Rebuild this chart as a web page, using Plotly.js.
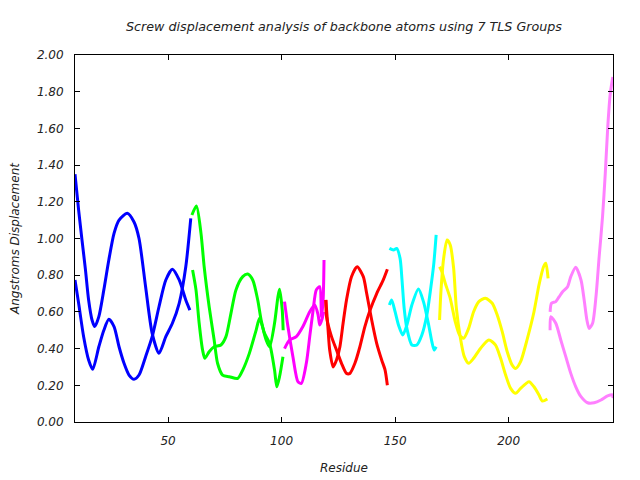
<!DOCTYPE html>
<html>
<head>
<meta charset="utf-8">
<script src="https://cdn.plot.ly/plotly-3.0.1.min.js"></script>
<style>html,body{margin:0;padding:0;background:#fff;}#chart{width:640px;height:480px;}</style>
</head>
<body>
<div id="chart"></div>
<script>
// TLS group 1 (blue)
const g1aX = [9, 10.6, 12.1, 13.6, 15.0, 16.5, 17.7, 19.5, 21.7, 23.9, 26.2, 28.4, 32, 35, 37.2, 40.1, 43, 46, 49, 51.9, 54.9, 57.8, 60];
const g1aY = [1.35, 1.155, 0.99, 0.83, 0.665, 0.556, 0.52, 0.574, 0.72, 0.883, 1.028, 1.10, 1.137, 1.09, 1.00, 0.737, 0.483, 0.374, 0.465, 0.538, 0.647, 0.846, 1.11];
const g1bX = [9, 10.6, 12.8, 15, 16.8, 19.5, 21.7, 23.9, 26.2, 28.4, 30.6, 32.8, 35, 37.2, 40.1, 43, 46, 49, 51.9, 54.9, 57.8, 59.6];
const g1bY = [0.774, 0.647, 0.465, 0.338, 0.287, 0.41, 0.50, 0.56, 0.52, 0.41, 0.32, 0.256, 0.233, 0.256, 0.356, 0.465, 0.628, 0.774, 0.832, 0.774, 0.665, 0.61];
// TLS group 2 (green)
const g2aX = [60.5, 62.5, 64.5, 65.9, 68.1, 70.3, 71.8, 74.0, 77, 80.7, 82.9, 85.8, 88.8, 90.3, 92.5, 94.7, 96.9, 97.9, 99.1, 100.6];
const g2aY = [1.128, 1.177, 1.028, 0.846, 0.628, 0.447, 0.32, 0.256, 0.247, 0.238, 0.283, 0.374, 0.501, 0.565, 0.483, 0.429, 0.283, 0.192, 0.247, 0.356];
const g2bX = [60.8, 62.3, 63.7, 65.2, 66.2, 68.1, 70.3, 73.3, 75.5, 77.7, 79.9, 82.9, 85.1, 87.3, 89.5, 91.0, 93.2, 94.7, 96.9, 98.4, 99.1, 100.3, 100.7];
const g2bY = [0.828, 0.72, 0.538, 0.392, 0.347, 0.383, 0.41, 0.42, 0.465, 0.592, 0.72, 0.792, 0.807, 0.774, 0.665, 0.556, 0.447, 0.41, 0.538, 0.683, 0.723, 0.61, 0.50];
// TLS group 3 (magenta)
const g3aX = [101.3, 102.8, 105, 107.2, 108.7, 110.9, 112.4, 113.9, 115.3, 116.8, 117.6, 118.3, 118.7];
const g3aY = [0.656, 0.52, 0.356, 0.22, 0.21, 0.32, 0.465, 0.61, 0.72, 0.737, 0.574, 0.665, 0.883];
const g3bX = [101.3, 103.5, 106.5, 109.4, 112.4, 114.6, 116.1, 116.8, 117.8, 118.5];
const g3bY = [0.40, 0.447, 0.465, 0.52, 0.601, 0.638, 0.583, 0.529, 0.56, 0.60];
// TLS group 4 (red)
const g4aX = [119.5, 120.5, 121.2, 122.7, 124.2, 125.7, 127.1, 128.6, 130.8, 133.3, 136, 137.5, 139.7, 141.9, 144.1, 145.6, 146.6];
const g4aY = [0.665, 0.50, 0.392, 0.30, 0.338, 0.41, 0.538, 0.665, 0.792, 0.846, 0.792, 0.70, 0.556, 0.429, 0.338, 0.283, 0.20];
const g4bX = [119.5, 119.8, 122, 124.2, 126.4, 128.6, 130.1, 132.3, 134.5, 136.7, 139, 141.9, 144.8, 146.6];
const g4bY = [0.665, 0.574, 0.465, 0.392, 0.32, 0.265, 0.265, 0.32, 0.41, 0.52, 0.61, 0.70, 0.774, 0.832];
// TLS group 5 (cyan)
const g5aX = [147.5, 149.3, 150.7, 152.2, 153, 154, 155.2, 157.4, 159.6, 161.8, 164, 165.5, 167, 168.1];
const g5aY = [0.946, 0.937, 0.946, 0.892, 0.783, 0.62, 0.51, 0.42, 0.42, 0.474, 0.583, 0.71, 0.856, 1.02];
const g5bX = [147.5, 148.5, 150, 151.5, 153.4, 155.2, 157.4, 160.3, 162.5, 164.8, 166.2, 167.2, 168.1];
const g5bY = [0.638, 0.665, 0.601, 0.529, 0.474, 0.529, 0.638, 0.725, 0.656, 0.529, 0.438, 0.392, 0.41];
// TLS group 6 (yellow)
const g6aX = [169.6, 170.6, 172.1, 174.3, 176.5, 178.4, 180.2, 182.4, 184.6, 186.9, 189.8, 192.8, 195, 197.2, 199.4, 201.6, 203.1, 205.3, 208.3, 211.2, 213.4, 215.4, 216.4, 217.4];
const g6aY = [0.846, 0.82, 0.756, 0.674, 0.547, 0.474, 0.456, 0.51, 0.601, 0.656, 0.674, 0.647, 0.583, 0.492, 0.383, 0.31, 0.292, 0.329, 0.456, 0.601, 0.747, 0.846, 0.865, 0.783];
const g6bX = [169.6, 170.2, 171.4, 172.9, 174.3, 175.8, 177, 178.8, 180.5, 182.4, 184.6, 187.6, 191.3, 194.2, 196.5, 198.7, 200.9, 203.1, 205.3, 209, 211.2, 213.4, 214.9, 217.1];
const g6bY = [0.556, 0.71, 0.892, 0.992, 0.965, 0.838, 0.62, 0.456, 0.356, 0.32, 0.347, 0.401, 0.447, 0.42, 0.347, 0.256, 0.183, 0.156, 0.183, 0.22, 0.192, 0.147, 0.114, 0.125];
// TLS group 7 (violet)
const g7aX = [218.3, 218.6, 220.8, 223, 225.2, 227.4, 229.6, 231.9, 234.8, 237.7, 240.7, 243.6, 245.9, 246];
const g7aY = [0.50, 0.574, 0.538, 0.447, 0.356, 0.265, 0.192, 0.138, 0.105, 0.105, 0.12, 0.142, 0.147, 0.13];
const g7bX = [218.3, 218.9, 220.8, 222.3, 223.8, 226, 227.4, 229.6, 231.9, 233.3, 234.5, 235.5, 237, 238.5, 239.9, 241.4, 242.6, 243.7, 244.8, 245.9];
const g7bY = [0.60, 0.647, 0.656, 0.683, 0.71, 0.737, 0.792, 0.843, 0.774, 0.665, 0.556, 0.51, 0.538, 0.683, 0.90, 1.12, 1.355, 1.61, 1.79, 1.88];

const groupColors = ['#0000ff', '#00ff00', '#ff00ff', '#ff0000', '#00ffff', '#ffff00', '#ff80ff'];
const seriesX = [[g1aX, g1bX], [g2aX, g2bX], [g3aX, g3bX], [g4aX, g4bX], [g5aX, g5bX], [g6aX, g6bX], [g7aX, g7bX]];
const seriesY = [[g1aY, g1bY], [g2aY, g2bY], [g3aY, g3bY], [g4aY, g4bY], [g5aY, g5bY], [g6aY, g6bY], [g7aY, g7bY]];

const xTicks = [50, 100, 150, 200];
const yTicks = [0, 0.2, 0.4, 0.6, 0.8, 1.0, 1.2, 1.4, 1.6, 1.8, 2.0];

const traces = [];
seriesX.forEach((pair, g) => {
  pair.forEach((xs, k) => {
    traces.push({
      x: xs, y: seriesY[g][k], type: 'scatter', mode: 'lines',
      line: {color: groupColors[g], width: 3, shape: 'spline', smoothing: 0.7},
      showlegend: false, hoverinfo: 'skip'
    });
  });
});

const fnt = {family: 'DejaVu Sans, sans-serif', size: 12, color: '#222', style: 'italic'};
const titleFnt = {family: 'DejaVu Sans, sans-serif', size: 12.7, color: '#222', style: 'italic'};
const layout = {
  width: 640, height: 480,
  paper_bgcolor: '#fff', plot_bgcolor: '#fff',
  margin: {l: 75, r: 27, t: 55, b: 58},
  title: {text: 'Screw displacement analysis of backbone atoms using 7 TLS Groups',
          font: titleFnt, x: 0.5, xref: 'paper', y: 1 - 27/480, yref: 'container', yanchor: 'middle'},
  xaxis: {range: [9, 246], tickvals: xTicks, ticks: 'inside', ticklen: 5, tickcolor: '#000',
          showline: true, linecolor: '#000', linewidth: 1, mirror: 'ticks', showgrid: false, zeroline: false,
          tickfont: fnt, ticklabelstandoff: 8,
          title: {text: 'Residue', font: fnt, standoff: 16}},
  yaxis: {range: [0, 2], tickvals: yTicks, tickformat: '.2f', ticks: 'inside', ticklen: 5, tickcolor: '#000',
          showline: true, linecolor: '#000', linewidth: 1, mirror: 'ticks', showgrid: false, zeroline: false,
          tickfont: fnt, ticklabelstandoff: 8,
          title: {text: 'Angstroms Displacement', font: fnt, standoff: 14}}
};
Plotly.newPlot('chart', traces, layout, {staticPlot: true});
</script>
</body>
</html>
